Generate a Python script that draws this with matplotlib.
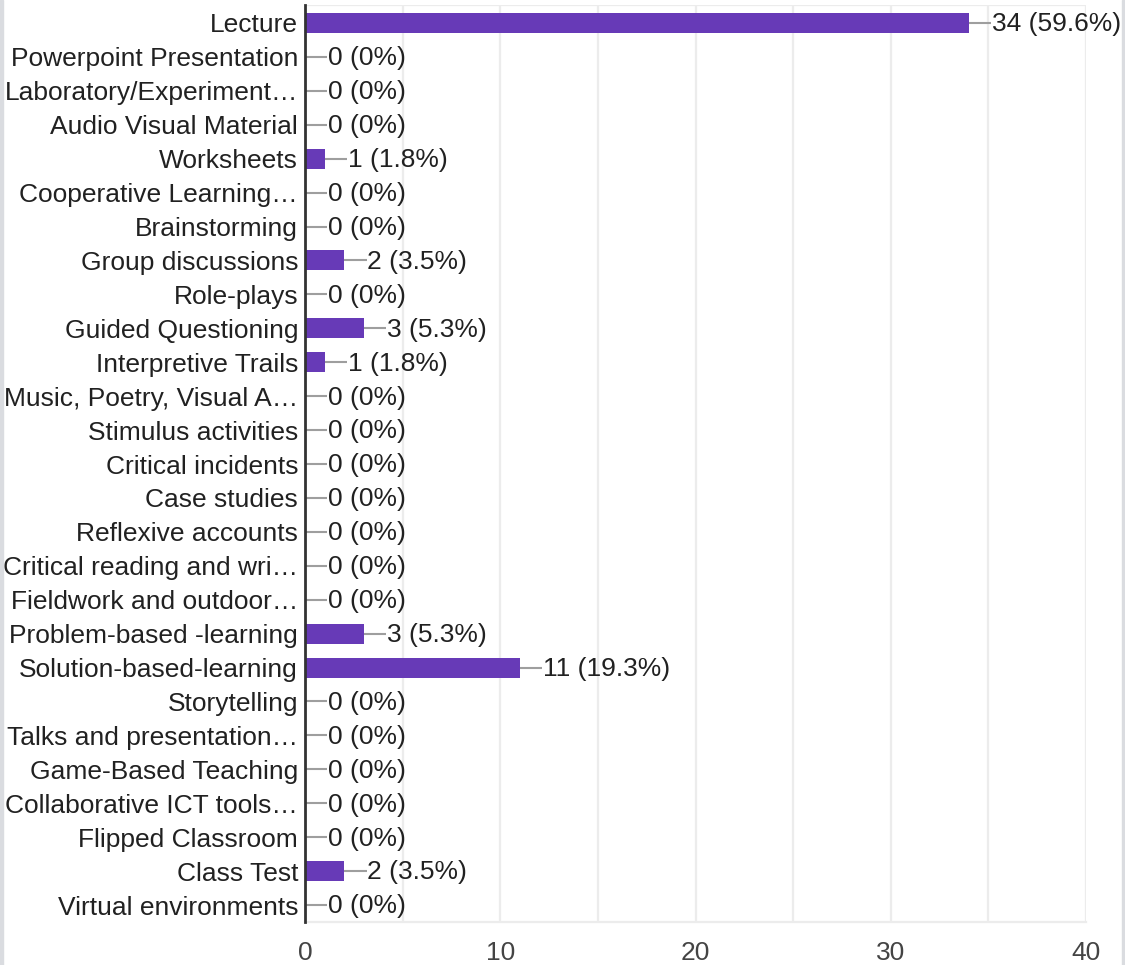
import matplotlib
matplotlib.use("Agg")
import matplotlib.pyplot as plt
from matplotlib.patches import Rectangle

labels = [
    "Lecture", "Powerpoint Presentation", "Laboratory/Experiment…",
    "Audio Visual Material", "Worksheets", "Cooperative Learning…",
    "Brainstorming", "Group discussions", "Role-plays", "Guided Questioning",
    "Interpretive Trails", "Music, Poetry, Visual A…", "Stimulus activities",
    "Critical incidents", "Case studies", "Reflexive accounts",
    "Critical reading and wri…", "Fieldwork and outdoor…",
    "Problem-based -learning", "Solution-based-learning", "Storytelling",
    "Talks and presentation…", "Game-Based Teaching",
    "Collaborative ICT tools…", "Flipped Classroom", "Class Test",
    "Virtual environments",
]
counts = [34, 0, 0, 0, 1, 0, 0, 2, 0, 3, 1, 0, 0, 0, 0, 0, 0, 0, 3, 11,
          0, 0, 0, 0, 0, 2, 0]
pcts = ["59.6%", "0%", "0%", "0%", "1.8%", "0%", "0%", "3.5%", "0%", "5.3%",
        "1.8%", "0%", "0%", "0%", "0%", "0%", "0%", "0%", "5.3%", "19.3%",
        "0%", "0%", "0%", "0%", "0%", "3.5%", "0%"]
xticks = [0, 10, 20, 30, 40]

plt.rcParams['font.family'] = ['Liberation Sans', 'DejaVu Sans']

W, H = 1125, 965
fig = plt.figure(figsize=(W / 100, H / 100), dpi=100)
ax = fig.add_axes([305 / W, 1 - 922 / H, 781 / W, 917 / H])

n = len(labels)
ypos = list(range(n))
ax.barh(ypos, counts, height=0.59, color='#673ab7', zorder=3)

for y, c, p in zip(ypos, counts, pcts):
    ax.plot([c, c + 1.15], [y, y], color='#9e9e9e', lw=1.5, zorder=3,
            solid_capstyle='butt')
    ax.text(c + 1.2, y + 0.04, f"{c} ({p})", va='center', ha='left',
            fontsize=19, color='#212121', zorder=4)

ax.set_xlim(0, 40)
ax.set_ylim(n - 0.5, -0.53)
ax.set_yticks(ypos)
ax.set_yticklabels(labels, fontsize=19, color='#212121')
ax.set_xticks(xticks)
ax.set_xticklabels([str(t) for t in xticks], fontsize=19, color='#444444')
ax.set_xticks(range(0, 41, 5), minor=True)
ax.tick_params(axis='both', length=0, which='both')
ax.tick_params(axis='y', pad=5)
ax.tick_params(axis='x', pad=14)
ax.grid(axis='x', which='both', color='#ececec', lw=1.6, zorder=0)

for side in ['top', 'right']:
    ax.spines[side].set_visible(False)
ax.spines['left'].set_color('#333333')
ax.spines['left'].set_linewidth(2)
ax.spines['left'].set_zorder(5)
ax.spines['bottom'].set_color('#ececec')
ax.spines['bottom'].set_linewidth(1.6)
ax.axhline(-0.53, color='#ececec', lw=1.6, zorder=0)

# page border strips
fig.patches.append(Rectangle((0, 0), 3 / W, 1, transform=fig.transFigure,
                             color='#dadce0', zorder=0))
fig.patches.append(Rectangle((1 - 3 / W, 0), 3 / W, 1,
                             transform=fig.transFigure, color='#dadce0',
                             zorder=0))

fig.savefig("out.png", dpi=100)
